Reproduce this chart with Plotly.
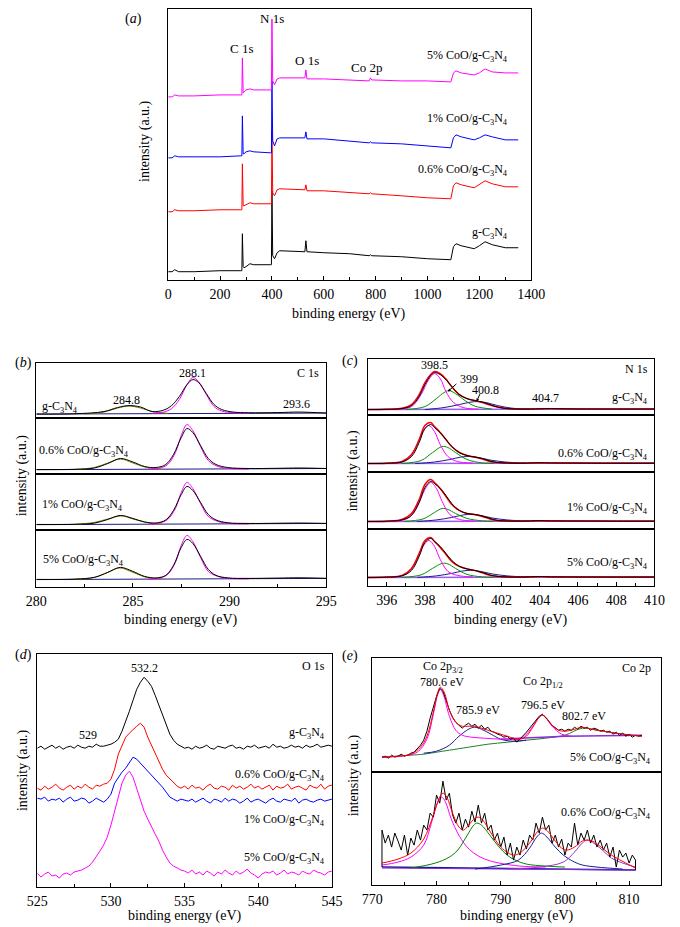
import numpy as np
import plotly.graph_objects as go

# reference picture size; the page body adds an 8 px margin, so the figure is drawn 8 px smaller
REF_W, REF_H = 680, 927
OFF = 8
W, H = REF_W - OFF, REF_H - OFF
FONT = "Liberation Serif"

# ---------------- (a) survey spectra ----------------
survey_e = [0, 15, 25, 40, 100, 200, 280, 284, 286, 289, 292, 300, 315, 330, 395, 398, 400, 403, 410, 420,
            430, 500, 527, 531, 535, 600, 700, 775, 780, 785, 900, 1000, 1090, 1100, 1110, 1130, 1180, 1200,
            1222, 1250, 1300, 1350]
survey_g = [8, 8, 10, 8, 8, 9, 9, 9, 46, 13, 12, 13, 16, 15, 15, 15, 89, 24, 21, 27, 29, 28, 28, 39, 28, 27,
            26, 24, 25, 24, 23, 21, 20, 33, 36, 34, 31, 34, 38, 35, 32, 32]
survey_06 = [68, 68, 70, 69, 69, 70, 70, 70, 116, 74, 74, 75, 77, 76, 76, 76, 149, 87, 84, 90, 91, 90, 90, 95,
             89, 89, 87, 86, 87, 86, 84, 82, 81, 94, 97, 95, 92, 95, 99, 96, 93, 93]
survey_1 = [122, 122, 124, 123, 123, 123, 124, 124, 164, 126, 126, 128, 129, 128, 127, 127, 199, 139, 134, 141,
            142, 142, 142, 148, 141, 141, 139, 137, 138, 137, 136, 134, 132, 142, 145, 143, 140, 142, 145, 143,
            140, 140]
survey_5 = [183, 183, 185, 184, 184, 185, 185, 185, 222, 187, 188, 190, 191, 190, 190, 190, 261, 199, 195, 201,
            202, 202, 202, 210, 201, 201, 200, 199, 202, 200, 199, 199, 198, 207, 209, 207, 205, 207, 211, 208,
            207, 207]

# ---------------- (b) C 1s ----------------
c1s_e = [280, 282, 283, 283.7, 284.35, 285, 285.6, 286.2, 286.7, 287.1, 287.5, 287.8, 288.1, 288.5, 288.9,
         289.3, 289.9, 291, 292.5, 293.6, 295]
c1s_e_g = [280, 282, 283.5, 284.2, 284.8, 285.4, 286.0, 286.6, 287.0, 287.4, 287.8, 288.1, 288.4, 288.8, 289.2,
           289.6, 290.2, 291, 292.5, 293.6, 295]
c1s_data = [
    [3.5, 3.8, 6, 10, 12, 10.5, 6, 7.5, 12, 21, 33, 38, 35, 24, 13, 8, 5.5, 4.8, 5, 5.5, 4.5],
    [5, 5.2, 6.5, 11, 16, 12.5, 8, 7, 10, 20, 37, 46, 42, 29, 16, 10, 7, 6, 6.2, 6.5, 6],
    [6, 6.2, 7.3, 11, 15, 12, 8.5, 7.5, 10.5, 20, 36, 44, 40, 28, 16, 10.5, 7.7, 7, 7.2, 7.4, 7],
    [8, 8.3, 10, 15, 20, 16, 11, 9.5, 12, 22, 40, 48, 44, 31, 18, 12, 9.5, 9, 9.3, 9.6, 9],
]
c1s_main_e = [
    [286, 286.6, 287.0, 287.4, 287.8, 288.1, 288.4, 288.8, 289.2, 289.6, 290.2, 291],
    [285.8, 286.4, 286.8, 287.2, 287.5, 287.8, 288.1, 288.5, 288.9, 289.4, 290, 291],
    [285.8, 286.4, 286.8, 287.2, 287.5, 287.8, 288.1, 288.5, 288.9, 289.4, 290, 291],
    [285.8, 286.4, 286.8, 287.2, 287.5, 287.8, 288.1, 288.5, 288.9, 289.4, 290, 291],
]
c1s_main = [
    [4.3, 5.5, 9, 18, 33, 40, 36, 23, 11, 6.5, 4.8, 4.2],
    [5.3, 6.5, 10, 22, 39, 50, 44, 28, 14, 8, 6, 5.4],
    [6.3, 7.5, 11, 22, 38, 48, 42, 27, 14, 9, 7, 6.5],
    [8.3, 9.5, 13, 25, 42, 52, 46, 30, 16, 11, 9, 8.5],
]
c1s_cc_e = [
    [282.5, 283.5, 284.2, 284.8, 285.4, 286, 286.8],
    [282, 283, 283.7, 284.35, 285, 285.7, 286.5],
    [282, 283, 283.7, 284.4, 285, 285.7, 286.5],
    [282, 283, 283.7, 284.3, 285, 285.7, 286.5],
]
c1s_cc = [
    [3.7, 5.5, 9.5, 11.5, 9.5, 6, 4.2],
    [5.1, 7, 11.5, 15.5, 11.5, 7, 5.3],
    [6.1, 8, 11.5, 14.5, 11.5, 8, 6.3],
    [8.1, 10, 15, 19.5, 15, 10, 8.3],
]
c1s_base = [[3.5, 4.5], [4.8, 6], [5.8, 7], [7.8, 9]]

# ---------------- (c) N 1s ----------------
n1s_e = [395, 396, 396.8, 397.3, 397.7, 398.0, 398.3, 398.5, 398.8, 399.1, 399.4, 399.8, 400.2, 400.6, 401.0,
         401.4, 401.8, 402.3, 403, 404, 404.5, 405, 406, 408, 410]
n1s_data = [
    [5, 5.3, 6, 9, 18, 30, 39, 42, 40, 35, 28, 20, 16, 14, 12.5, 10, 7.5, 6, 5.5, 5.7, 6, 5.8, 5.6, 5.5, 5.5],
    [9, 9.3, 10.5, 16, 30, 44, 48, 45, 40, 33, 26, 20, 17, 15.5, 14, 11.5, 10, 9.5, 9.3, 9.8, 9.6, 9.5, 9.4, 9.3, 9.3],
    [8, 8.3, 9.5, 14, 27, 42, 48, 46, 41, 34, 26, 19, 16, 15, 13.5, 11, 9, 8.5, 8.3, 8.8, 8.6, 8.5, 8.4, 8.3, 8.3],
    [9, 9.3, 10.5, 16, 30, 44, 48, 45, 40, 33, 26, 20, 17.5, 16, 14, 11.5, 10, 9.5, 9.3, 9.9, 9.6, 9.5, 9.4, 9.3, 9.3],
]
n1s_sum = [
    [5, 5.3, 6.3, 10, 20, 32, 40, 43, 41, 35.5, 28, 20, 16, 14, 12, 9.5, 7.5, 6, 5.5, 5.7, 5.8, 5.7, 5.6, 5.5, 5.5],
    [9, 9.3, 11, 18, 33, 47, 50, 46, 40, 33, 26, 20, 17, 15.5, 13.5, 11, 10, 9.5, 9.3, 9.6, 9.5, 9.4, 9.4, 9.3, 9.3],
    [8, 8.3, 10, 16, 30, 45, 50, 47, 41, 33, 25, 19, 16, 15, 13, 10.5, 9, 8.5, 8.3, 8.6, 8.5, 8.4, 8.4, 8.3, 8.3],
    [9, 9.3, 11, 18, 33, 46, 49, 45, 39, 32, 25, 20, 17.5, 16, 13.5, 11, 10, 9.5, 9.3, 9.6, 9.5, 9.4, 9.4, 9.3, 9.3],
]
n1s_a_e = [
    [396.5, 397.3, 397.8, 398.2, 398.5, 398.8, 399.1, 399.5, 400, 400.8],
    [396.3, 397.0, 397.5, 397.9, 398.2, 398.5, 398.8, 399.2, 399.7, 400.5],
    [396.4, 397.1, 397.6, 398.0, 398.3, 398.6, 398.9, 399.3, 399.8, 400.6],
    [396.3, 397.0, 397.5, 397.9, 398.2, 398.5, 398.8, 399.2, 399.7, 400.5],
]
n1s_a = [
    [5.2, 8, 20, 35, 41, 36, 23, 12, 7, 5.4],
    [9.2, 12, 24, 41, 47, 41, 28, 16, 11, 9.5],
    [8.2, 11, 23, 40, 47, 41, 28, 15, 10, 8.5],
    [9.2, 12, 24, 40, 46, 40, 27, 15, 11, 9.5],
]
n1s_b_e = [
    [397, 398, 398.6, 399.0, 399.25, 399.6, 400.1, 400.6, 401.5],
    [396.8, 397.8, 398.4, 398.9, 399.2, 399.6, 400.2, 401, 401.6],
    [396.9, 397.9, 398.5, 398.9, 399.2, 399.6, 400.2, 401, 401.6],
    [396.8, 397.8, 398.4, 398.9, 399.2, 399.6, 400.2, 401, 401.6],
]
n1s_b = [
    [5.1, 8, 16, 22, 24, 21, 14, 8.5, 5.5],
    [9.1, 12, 20, 26, 25, 20, 13, 9.6, 9.2],
    [8.1, 10.5, 17, 21, 20, 16, 11, 8.6, 8.2],
    [9.1, 11.5, 18, 23, 22.5, 18, 12, 9.5, 9.2],
]
n1s_c_e = [
    [398, 399, 399.8, 400.4, 400.8, 401.2, 401.8, 402.5, 403.5],
    [397.5, 398.5, 399.3, 399.9, 400.3, 400.8, 401.4, 402.2, 403.3],
    [397.6, 398.6, 399.4, 400, 400.4, 400.9, 401.5, 402.3, 403.4],
    [397.6, 398.6, 399.4, 400, 400.4, 400.9, 401.5, 402.3, 403.4],
]
n1s_c = [
    [5, 7, 10, 12.5, 13, 12, 9, 6.5, 5.3],
    [9, 10.5, 13, 15.5, 16, 15, 12.5, 10.5, 9.3],
    [8, 9.5, 12, 14.5, 15, 14, 11.5, 9.5, 8.3],
    [9, 10.5, 13, 15.5, 16, 15, 12.5, 10.5, 9.3],
]
n1s_base = [[5, 5.5], [9, 9.5], [8, 8.5], [9, 9.5]]

# ---------------- (d) O 1s ----------------
o1s_e = np.arange(525, 545.01, 0.25)
o1s_g = [139, 141, 138, 140, 142, 139, 141, 138, 140, 141, 139, 142, 140, 139, 141, 140, 143, 141, 141, 142, 143,
         145, 148, 156, 165, 176, 187, 198, 205, 210, 206, 201, 192, 182, 172, 162, 153, 147, 143, 141, 139,
         140, 138, 141, 139, 140, 142, 139, 138, 141, 140, 139, 141, 142, 139, 140, 138, 141, 140, 142, 139,
         140, 141, 139, 143, 140, 141, 139, 140, 142, 140, 141, 139, 142, 140, 141, 143, 140, 141, 142, 141]
o1s_06 = [99, 97, 101, 98, 100, 103, 99, 97, 100, 102, 98, 101, 99, 103, 100, 98, 102, 101, 103, 104, 108,
          118, 133, 142, 150, 154, 158, 161, 164, 160, 150, 142, 134, 127, 118, 112, 108, 104, 101, 99, 101,
          98, 102, 99, 100, 97, 101, 103, 99, 98, 101, 100, 97, 102, 99, 101, 98, 100, 103, 99, 101,
          98, 100, 102, 97, 101, 99, 100, 103, 98, 100, 101, 99, 97, 102, 100, 99, 103, 98, 101, 102]
o1s_1 = [89, 88, 90, 86, 88, 87, 89, 85, 88, 90, 86, 87, 89, 88, 84, 86, 89, 87, 85, 88, 93,
         104, 110, 115, 119, 124, 130, 128, 124, 121, 117, 113, 108, 105, 100, 95, 90, 88, 86, 88, 87,
         86, 88, 85, 87, 89, 86, 84, 88, 87, 85, 89, 86, 88, 87, 84, 86, 89, 85, 87, 88,
         86, 84, 87, 89, 86, 85, 88, 87, 86, 89, 84, 87, 88, 86, 85, 87, 88, 86, 87, 88]
o1s_5 = [14, 10, 13, 15, 11, 12, 9, 13, 14, 12, 15, 16, 17, 19, 21, 25, 30, 36, 42, 50, 62,
         76, 91, 104, 112, 116, 110, 99, 88, 76, 68, 60, 53, 46, 37, 30, 24, 21, 19, 17, 16,
         14, 17, 13, 15, 12, 16, 14, 11, 15, 13, 17, 14, 12, 16, 13, 15, 18, 14, 12, 9,
         13, 15, 14, 16, 12, 14, 17, 13, 15, 14, 12, 16, 14, 13, 17, 15, 14, 12, 15, 16]

# ---------------- (e) Co 2p ----------------
co5_e = np.arange(771.5, 812.01, 0.5)
co5_data = [15, 16, 14, 17, 15, 16, 18, 16, 17, 19, 20, 23, 27, 32, 41, 54, 66, 76, 84, 81, 72, 62, 55, 50,
            47, 44, 47, 49, 46, 48, 44, 47, 43, 45, 41, 40, 38, 37, 35, 36, 33, 34, 30, 33, 36, 40, 44, 48,
            53, 56, 58, 55, 51, 47, 44, 42, 43, 41, 43, 42, 45, 43, 46, 44, 45, 42, 44, 43, 41, 42, 40, 41,
            38, 40, 37, 39, 36, 38, 35, 37, 36, 37]
co5_sum_e = [771.5, 774, 776, 777.5, 778.5, 779.5, 780.2, 780.6, 781.2, 782, 783, 784, 785, 786, 787, 788,
             789, 790, 791, 792, 793, 794, 795, 796, 796.5, 797, 798, 799, 800, 801, 802, 802.7, 803.5, 805,
             807, 809, 812]
co5_sum = [15, 16, 18, 25, 36, 60, 80, 85, 80, 62, 50, 46, 46, 46, 44, 42, 40, 38, 36, 34, 33, 36, 45, 55,
           57, 55, 47, 42, 41, 42, 44, 45, 44, 42, 40, 38, 36]
co5_a_e = [771.5, 775, 777, 778.5, 779.5, 780.2, 780.6, 781.1, 782, 783, 784, 785.5, 787.5, 790, 793]
co5_a = [15, 16.5, 20, 33, 58, 78, 83, 77, 56, 42, 37, 35, 34, 33, 33]
co5_b_e = [778, 780, 782, 783.5, 785, 785.9, 787, 788.5, 790, 792, 794]
co5_b = [19, 21, 27, 36, 43, 45, 43, 38, 33, 31, 32]
co5_c_e = [792, 793.5, 795, 796, 796.5, 797, 798, 799.5, 801]
co5_c = [32, 35, 46, 55, 57, 55, 46, 38, 36]
co5_bg_e = [771.5, 776, 778, 780, 782, 785, 788, 791, 794, 797, 800, 802.7, 805, 808, 812]
co5_bg = [15, 17, 18, 20, 22, 25, 28, 30, 32, 34, 37, 44, 42, 39, 36]

co06_e = np.arange(771.5, 811.01, 0.5)
co06_data = [55, 42, 50, 38, 52, 44, 35, 50, 30, 47, 40, 55, 45, 60, 55, 72, 68, 90, 82, 104, 85, 92, 70, 62,
             72, 55, 66, 58, 74, 63, 80, 62, 72, 55, 60, 45, 52, 38, 48, 30, 42, 25, 38, 30, 45, 36, 50, 45,
             62, 52, 68, 55, 60, 42, 50, 38, 46, 30, 42, 38, 62, 40, 52, 45, 55, 42, 50, 38, 45, 35, 42, 28,
             38, 18, 35, 28, 32, 22, 30, 25]
co06_sum_e = [771.5, 774, 776, 778, 779.5, 780.5, 781, 781.6, 782.5, 783.5, 784.2, 785, 786, 786.5, 787.2,
              788.5, 790, 791.2, 792, 793, 794.5, 795.8, 796.5, 797.3, 798.5, 799.5, 800.3, 801.5, 802.7,
              803.6, 804.6, 806, 807.5, 809.5, 811]
co06_sum = [22, 26, 32, 46, 70, 88, 92, 88, 72, 58, 55, 60, 67, 68, 65, 52, 38, 32, 30, 32, 42, 54, 57, 54,
            44, 37, 35, 38, 44, 45, 43, 36, 29, 22, 17]
co06_a_e = [771.5, 774, 776, 778, 779.2, 780.2, 780.8, 781.4, 782.3, 783.3, 784.5, 785.8, 787.5, 789.75, 793, 797]
co06_a = [20, 23, 28, 40, 62, 83, 88, 83, 66, 52, 40, 32, 26, 22, 19, 18]
co06_b_e = [776, 779.8, 782, 783.3, 784.8, 785.8, 786.3, 787, 788.3, 789.75, 791, 792.25, 794, 797, 800]
co06_b = [17, 22, 28, 35, 50, 60, 62, 60, 50, 38, 30, 25, 21, 19, 18]
co06_c_e = [786, 790, 792.75, 794.5, 795.6, 796.35, 797.2, 798.5, 799.75, 801.5, 802.75, 805, 809]
co06_c = [16, 20, 25, 37, 48, 52, 48, 38, 30, 23, 20, 18, 16]
co06_d_e = [791, 796, 799.75, 801.5, 802.7, 803.5, 804.5, 806, 807.25, 809, 811]
co06_d = [16, 18, 23, 33, 42, 45, 42, 34, 27, 22, 18]

fig = go.Figure()
layout = {}


def xp(px):
    return min(max((px - OFF) / W, 0), 1)


def yp(py):
    return min(max(1 - (py - OFF) / H, 0), 1)


def make_axes(i, x0, x1, y0, y1, xr, yr, ticks=None):
    xa = dict(domain=[xp(x0), xp(x1)], anchor=f"y{i}", range=xr, showline=True, mirror=True,
              linecolor="black", linewidth=1, showgrid=False, zeroline=False, showticklabels=False, ticks="")
    if ticks:
        t0, dt, mdt = ticks
        xa.update(showticklabels=True, ticks="inside", ticklen=4, tickwidth=1, tickcolor="black",
                  tickmode="linear", tick0=t0, dtick=dt, ticklabelstandoff=1,
                  minor=dict(ticks="inside", ticklen=3, tickcolor="black", dtick=mdt, tick0=t0),
                  tickfont=dict(family=FONT, size=14, color="black"))
    ya = dict(domain=[yp(y1), yp(y0)], anchor=f"x{i}", range=yr, showline=True, mirror=True,
              linecolor="black", linewidth=1, showgrid=False, zeroline=False, showticklabels=False, ticks="")
    layout["xaxis" if i == 1 else f"xaxis{i}"] = xa
    layout["yaxis" if i == 1 else f"yaxis{i}"] = ya


def line(i, x, y, color, width=1, smooth=False):
    fig.add_trace(go.Scatter(x=x, y=y, mode="lines", xaxis=f"x{i}", yaxis=f"y{i}", showlegend=False,
                             hoverinfo="skip",
                             line=dict(color=color, width=width, shape="spline" if smooth else "linear")))


annotations = []


def text(px, py, s, anchor="center", size=12, angle=0, vanchor="middle"):
    annotations.append(dict(x=xp(px), y=yp(py), xref="paper", yref="paper", text=s, showarrow=False,
                            xanchor=anchor, yanchor=vanchor, textangle=angle,
                            font=dict(family=FONT, size=size, color="black")))


def arrow(i, x, y, ax, ay):
    annotations.append(dict(x=x, y=y, xref=f"x{i}", yref=f"y{i}", ax=ax, ay=ay, text="", showarrow=True,
                            arrowhead=2, arrowsize=0.6, arrowwidth=1, arrowcolor="black"))


CN = "g-C<sub>3</sub>N<sub>4</sub>"

# (a)
make_axes(1, 163, 540, 8, 279, [0, 1400], [0, 271], ticks=(0, 200, 100))
line(1, survey_e, survey_g, "black")
line(1, survey_e, survey_06, "#ff0000")
line(1, survey_e, survey_1, "#0000ff")
line(1, survey_e, survey_5, "#ff00ff")
text(127, 8, "(<i>a</i>)", size=14, vanchor="top")
text(239, 48, "C 1s", size=13)
text(271, 8, "N 1s", size=13, vanchor="top")
text(307, 60, "O 1s", size=13)
text(369, 67, "Co 2p", size=13)
text(518, 55, "5% CoO/" + CN, "right")
text(518, 118, "1% CoO/" + CN, "right")
text(518, 169, "0.6% CoO/" + CN, "right")
text(518, 232, CN, "right")
text(139, 140, "intensity (a.u.)", size=14, angle=-90)
text(351, 313, "binding energy (eV)", size=14)

# (b)
b_rows = [(362, 417, 55), (417, 474, 57), (474, 530, 56), (530, 587, 57)]
for k, (y0, y1, h) in enumerate(b_rows):
    i = 2 + k
    make_axes(i, 26, 327, y0, y1, [280, 295], [0, h], ticks=(280, 5, 2.5) if k == 3 else None)
    line(i, [280, 295], c1s_base[k], "#1a1a80")
    line(i, c1s_cc_e[k], c1s_cc[k], "#808000", smooth=True)
    line(i, c1s_main_e[k], c1s_main[k], "#ff00ff", smooth=True)
    line(i, c1s_e_g if k == 0 else c1s_e, c1s_data[k], "black", smooth=True)
text(13, 362, "(<i>b</i>)", size=14)
text(188, 372, "288.1")
text(120, 399, "284.8")
text(296, 403, "293.6")
text(322, 372, "C 1s", "right")
text(30, 406, CN, "left")
text(27, 450, "0.6% CoO/" + CN, "left")
text(30, 505, "1% CoO/" + CN, "left")
text(31, 560, "5% CoO/" + CN, "left")
text(12, 475, "intensity (a.u.)", size=14, angle=-90)
text(176, 620, "binding energy (eV)", size=14)

# (c)
c_rows = [(358, 414, 56), (414, 472, 58), (472, 529, 57), (529, 586, 57)]
for k, (y0, y1, h) in enumerate(c_rows):
    i = 6 + k
    make_axes(i, 370, 668, y0, y1, [395, 410], [0, h], ticks=(396, 2, 1) if k == 3 else None)
    line(i, [395, 410], n1s_base[k], "#9a5cf0", width=1.5)
    line(i, n1s_c_e[k], n1s_c[k], "#1a1a90", smooth=True)
    line(i, n1s_b_e[k], n1s_b[k], "#009000", smooth=True)
    line(i, n1s_a_e[k], n1s_a[k], "#ff00ff", smooth=True)
    line(i, n1s_e, n1s_sum[k], "#ff0000", width=1.5, smooth=True)
    line(i, n1s_e, n1s_data[k], "black", smooth=True)
text(352, 360, "(<i>c</i>)", size=14)
text(440, 364, "398.5")
text(475, 378, "399")
text(493, 389, "400.8")
text(555, 397, "404.7")
text(663, 368, "N 1s", "right")
text(663, 397, CN, "right")
text(663, 453, "0.6% CoO/" + CN, "right")
text(663, 508, "1% CoO/" + CN, "right")
text(663, 563, "5% CoO/" + CN, "right")
arrow(6, 399.2, 23, 10, -9)
arrow(6, 400.7, 13, 4, -9)
text(355, 470, "intensity (a.u.)", size=14, angle=-90)
text(519, 620, "binding energy (eV)", size=14)

# (d)
make_axes(10, 27, 333, 654, 887, [525, 545], [0, 233], ticks=(525, 5, 2.5))
line(10, o1s_e, o1s_g, "black")
line(10, o1s_e, o1s_06, "#ff0000")
line(10, o1s_e, o1s_1, "#0000ff")
line(10, o1s_e, o1s_5, "#ff00ff")
text(13, 655, "(<i>d</i>)", size=14)
text(138, 668, "532.2")
text(80, 735, "529")
text(328, 666, "O 1s", "right")
text(328, 733, CN, "right")
text(328, 775, "0.6% CoO/" + CN, "right")
text(328, 820, "1% CoO/" + CN, "right")
text(328, 858, "5% CoO/" + CN, "right")
text(12, 770, "intensity (a.u.)", size=14, angle=-90)
text(180, 916, "binding energy (eV)", size=14)

# (e)
make_axes(11, 375, 675, 658, 772, [770, 815], [0, 114])
make_axes(12, 375, 675, 772, 885, [770, 815], [0, 113], ticks=(770, 10, 5))
line(11, co5_bg_e, co5_bg, "#208020", smooth=True)
line(11, [790, 800, 812], [33, 36, 37], "#8a2be2", width=1.5)
line(11, co5_b_e, co5_b, "#1a1a90", smooth=True)
line(11, co5_a_e, co5_a, "#ff00ff", smooth=True)
line(11, co5_c_e, co5_c, "#ff00ff", smooth=True)
line(11, co5_e, co5_data, "black")
line(11, co5_sum_e, co5_sum, "#ff0000", smooth=True)

line(12, [771.5, 811], [18, 15], "#1a1a90", width=1.5)
line(12, [771.5, 811], [17, 15], "#8a2be2")
line(12, co06_a_e, co06_a, "#ff00ff", smooth=True)
line(12, co06_b_e, co06_b, "#008000", smooth=True)
line(12, co06_c_e, co06_c, "#1a1a90", smooth=True)
line(12, co06_d_e, co06_d, "#9933cc", smooth=True)
line(12, np.concatenate([[771.5], co06_e, [811]]), [18] + co06_data + [15], "black")
line(12, co06_sum_e, co06_sum, "#ff0000", smooth=True)

text(352, 656, "(<i>e</i>)", size=14)
text(448, 667, "Co 2p<sub>3/2</sub>")
text(447, 682, "780.6 eV")
text(485, 710, "785.9 eV")
text(552, 682, "Co 2p<sub>1/2</sub>")
text(552, 705, "796.5 eV")
text(595, 716, "802.7 eV")
text(667, 668, "Co 2p", "right")
text(667, 758, "5% CoO/" + CN, "right")
text(667, 813, "0.6% CoO/" + CN, "right")
text(356, 775, "intensity (a.u.)", size=14, angle=-90)
text(525, 916, "binding energy (eV)", size=14)

fig.update_layout(width=W, height=H, margin=dict(l=0, r=0, t=0, b=0), plot_bgcolor="white",
                  paper_bgcolor="white", annotations=annotations, font=dict(family=FONT), **layout)
fig.write_html("out.html")
